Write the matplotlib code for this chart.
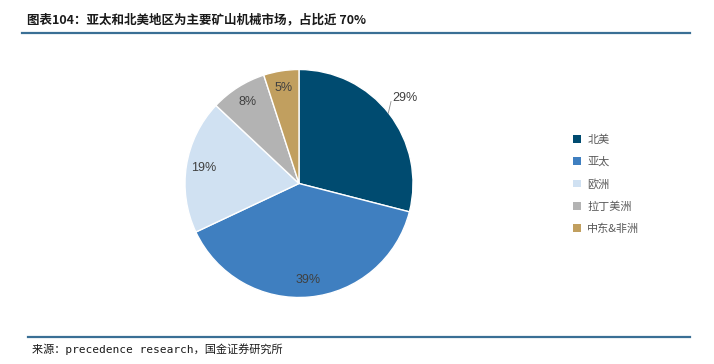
import numpy as np
import matplotlib
matplotlib.use("Agg")
import matplotlib.pyplot as plt
from matplotlib.lines import Line2D
from matplotlib.patches import Patch

plt.rcParams['font.family'] = ['Noto Sans CJK SC', 'DejaVu Sans']

categories = ['北美', '亚太', '欧洲', '拉丁美洲', '中东&非洲']
values = [29, 39, 19, 8, 5]
colors = ['#004b70', '#3f7fc0', '#d0e1f2', '#b3b3b3', '#c19f5f']
title = '图表104：亚太和北美地区为主要矿山机械市场，占比近 70%'
source = '来源：precedence research，国金证券研究所'

W, H = 714, 364
fig = plt.figure(figsize=(W / 100, H / 100), dpi=100)

# header/footer
fig.text(27/W, 1 - 20/H, title, fontsize=9, color='#1a1a1a', va='center', ha='left',
         style='italic', fontweight='bold')
fig.add_artist(Line2D([22/W, 690/W], [1 - 33/H] * 2, color='#3a6f95', lw=1.6))
fig.add_artist(Line2D([28/W, 690/W], [1 - 337/H] * 2, color='#3a6f95', lw=1.6))
fig.text(32/W, 1 - 349/H, source, fontsize=8, color='#1a1a1a', va='center', ha='left',
         family=['DejaVu Sans Mono', 'Noto Sans CJK SC'])

cx, cy, r = 299, 183.5, 114
ax = fig.add_axes([(cx - r)/W, (H - cy - r)/H, 2*r/W, 2*r/H])
wedges, texts, autotexts = ax.pie(values, colors=colors, startangle=90, counterclock=False,
                                  autopct=lambda p: f'{p:.0f}%', pctdistance=0.85,
                                  wedgeprops=dict(edgecolor='white', linewidth=1.0),
                                  textprops=dict(fontsize=9, color='#404040', family='Liberation Sans'))
ax.set_xlim(-1, 1)
ax.set_ylim(-1, 1)
ax.set_aspect('auto')
ax.axis('off')

# 29% label outside with leader line
autotexts[0].set_position((0.82, 0.75))
autotexts[0].set_ha('left')
ax.plot([0.783, 0.807], [0.616, 0.719], color='#8c8c8c', lw=0.6, clip_on=False)

handles = [Patch(facecolor=c, edgecolor='none') for c in colors]
fig.legend(handles, categories, loc='upper left', bbox_to_anchor=(563/W, 1 - 124.5/H),
           frameon=False, fontsize=8, labelcolor='#595959', handlelength=0.7, handleheight=0.7,
           handletextpad=0.6, labelspacing=1.05)

fig.savefig('out.png', dpi=100)
